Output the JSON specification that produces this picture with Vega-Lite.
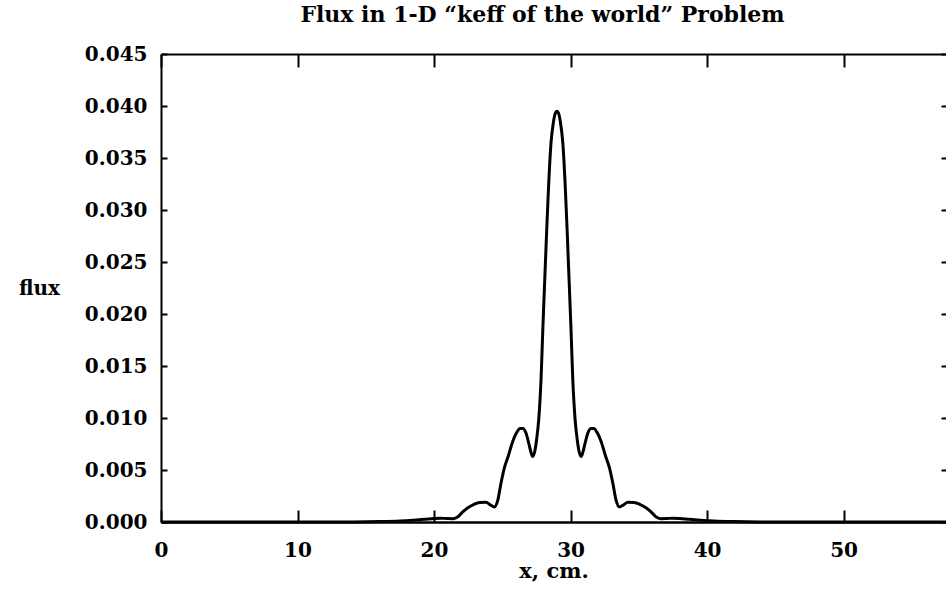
{
  "$schema": "https://vega.github.io/schema/vega-lite/v6.json",
  "width": 785,
  "height": 468,
  "autosize": {"type": "none"},
  "padding": {"left": 161, "top": 54, "right": 0, "bottom": 67},
  "background": "white",
  "config": {
    "view": {"stroke": null},
    "axis": {
      "grid": false,
      "domainColor": "black",
      "tickColor": "black",
      "labelColor": "black",
      "titleColor": "black",
      "labelFont": "DejaVu Serif",
      "labelFontWeight": "bold",
      "labelFontSize": 20,
      "titleFont": "DejaVu Serif",
      "titleFontWeight": "bold",
      "titleFontSize": 20,
      "labelFlush": false,
      "labelOverlap": false
    }
  },
  "data": {
    "values": [
      {"x": 0, "flux": 0},
      {"x": 5, "flux": 0},
      {"x": 10, "flux": 0},
      {"x": 14, "flux": 0.00001},
      {"x": 16, "flux": 0.00004},
      {"x": 17.5, "flux": 0.0001},
      {"x": 18.5, "flux": 0.00018},
      {"x": 19.3, "flux": 0.00026},
      {"x": 20.0, "flux": 0.00034},
      {"x": 20.5, "flux": 0.00037},
      {"x": 21.0, "flux": 0.00033},
      {"x": 21.4, "flux": 0.00032},
      {"x": 21.75, "flux": 0.0005},
      {"x": 22.05, "flux": 0.0009},
      {"x": 22.45, "flux": 0.00135},
      {"x": 22.9, "flux": 0.00168},
      {"x": 23.35, "flux": 0.00188},
      {"x": 23.8, "flux": 0.0019},
      {"x": 24.15, "flux": 0.00162},
      {"x": 24.42, "flux": 0.00145},
      {"x": 24.65, "flux": 0.002},
      {"x": 24.9, "flux": 0.0037},
      {"x": 25.15, "flux": 0.0052},
      {"x": 25.45, "flux": 0.0064},
      {"x": 25.75, "flux": 0.0077},
      {"x": 26.05, "flux": 0.0086},
      {"x": 26.3, "flux": 0.009},
      {"x": 26.5, "flux": 0.009},
      {"x": 26.72, "flux": 0.0086},
      {"x": 26.95, "flux": 0.0075},
      {"x": 27.1, "flux": 0.0067},
      {"x": 27.23, "flux": 0.0063},
      {"x": 27.38, "flux": 0.0068},
      {"x": 27.52, "flux": 0.008},
      {"x": 27.67, "flux": 0.0099},
      {"x": 27.84, "flux": 0.0138},
      {"x": 27.97, "flux": 0.0186},
      {"x": 28.1, "flux": 0.023},
      {"x": 28.25, "flux": 0.028},
      {"x": 28.38, "flux": 0.032},
      {"x": 28.57, "flux": 0.0365},
      {"x": 28.75, "flux": 0.0385},
      {"x": 28.88, "flux": 0.0393},
      {"x": 29.0, "flux": 0.0395},
      {"x": 29.12, "flux": 0.0393},
      {"x": 29.25, "flux": 0.0385},
      {"x": 29.43, "flux": 0.0365},
      {"x": 29.62, "flux": 0.032},
      {"x": 29.75, "flux": 0.028},
      {"x": 29.9, "flux": 0.023},
      {"x": 30.03, "flux": 0.0186},
      {"x": 30.16, "flux": 0.0138},
      {"x": 30.33, "flux": 0.0099},
      {"x": 30.48, "flux": 0.008},
      {"x": 30.62, "flux": 0.0068},
      {"x": 30.77, "flux": 0.0063},
      {"x": 30.9, "flux": 0.0067},
      {"x": 31.05, "flux": 0.0075},
      {"x": 31.28, "flux": 0.0086},
      {"x": 31.5, "flux": 0.009},
      {"x": 31.7, "flux": 0.009},
      {"x": 31.95, "flux": 0.0086},
      {"x": 32.25, "flux": 0.0077},
      {"x": 32.55, "flux": 0.0064},
      {"x": 32.85, "flux": 0.0052},
      {"x": 33.1, "flux": 0.0037},
      {"x": 33.35, "flux": 0.002},
      {"x": 33.58, "flux": 0.00145},
      {"x": 33.85, "flux": 0.00162},
      {"x": 34.2, "flux": 0.0019},
      {"x": 34.65, "flux": 0.00188},
      {"x": 35.1, "flux": 0.00168},
      {"x": 35.55, "flux": 0.00135},
      {"x": 35.95, "flux": 0.0009},
      {"x": 36.25, "flux": 0.0005},
      {"x": 36.6, "flux": 0.00032},
      {"x": 37.0, "flux": 0.00033},
      {"x": 37.5, "flux": 0.00037},
      {"x": 38.0, "flux": 0.00034},
      {"x": 38.7, "flux": 0.00026},
      {"x": 39.5, "flux": 0.00018},
      {"x": 40.5, "flux": 0.0001},
      {"x": 42, "flux": 0.00004},
      {"x": 44, "flux": 0.00001},
      {"x": 48, "flux": 0},
      {"x": 57.5, "flux": 0}
    ]
  },
  "layer": [
    {
      "mark": {"type": "line", "color": "black", "strokeWidth": 3, "interpolate": "monotone"},
      "encoding": {
        "x": {
          "field": "x", "type": "quantitative",
          "scale": {"domain": [0, 57.5], "nice": false, "zero": false},
          "axis": {
            "orient": "bottom",
            "values": [0, 10, 20, 30, 40, 50],
            "format": "d",
            "domainWidth": 2.5,
            "tickSize": -12,
            "tickWidth": 2,
            "labelPadding": 30,
            "title": "x, cm.",
            "titleFontSize": 21,
            "titleY": 55,
            "titleBaseline": "alphabetic"
          }
        },
        "y": {
          "field": "flux", "type": "quantitative",
          "scale": {"domain": [0, 0.045], "nice": false, "zero": false},
          "axis": {
            "orient": "left",
            "values": [0, 0.005, 0.01, 0.015, 0.02, 0.025, 0.03, 0.035, 0.04, 0.045],
            "format": ".3f",
            "domainWidth": 2,
            "tickSize": -6,
            "tickWidth": 2,
            "labelPadding": 20,
            "title": "flux",
            "titleAngle": 0,
            "titleX": -122,
            "titleY": 234,
            "titleAlign": "center",
            "titleBaseline": "middle"
          }
        }
      }
    },
    {
      "mark": {"type": "line", "opacity": 0},
      "encoding": {
        "x": {
          "field": "x", "type": "quantitative",
          "axis": {
            "orient": "top",
            "values": [0, 10, 20, 30, 40, 50],
            "labels": false,
            "domainWidth": 2,
            "tickSize": -13,
            "tickWidth": 2,
            "title": "Flux in 1-D “keff of the world” Problem",
            "titleFontSize": 22,
            "titleX": 381,
            "titleY": -33,
            "titleAlign": "center",
            "titleBaseline": "alphabetic"
          }
        },
        "y": {
          "field": "flux", "type": "quantitative",
          "axis": {
            "orient": "right",
            "values": [0, 0.005, 0.01, 0.015, 0.02, 0.025, 0.03, 0.035, 0.04, 0.045],
            "labels": false,
            "domain": false,
            "tickSize": -5,
            "tickWidth": 2,
            "title": null
          }
        }
      }
    }
  ],
  "resolve": {"axis": {"x": "independent", "y": "independent"}}
}
